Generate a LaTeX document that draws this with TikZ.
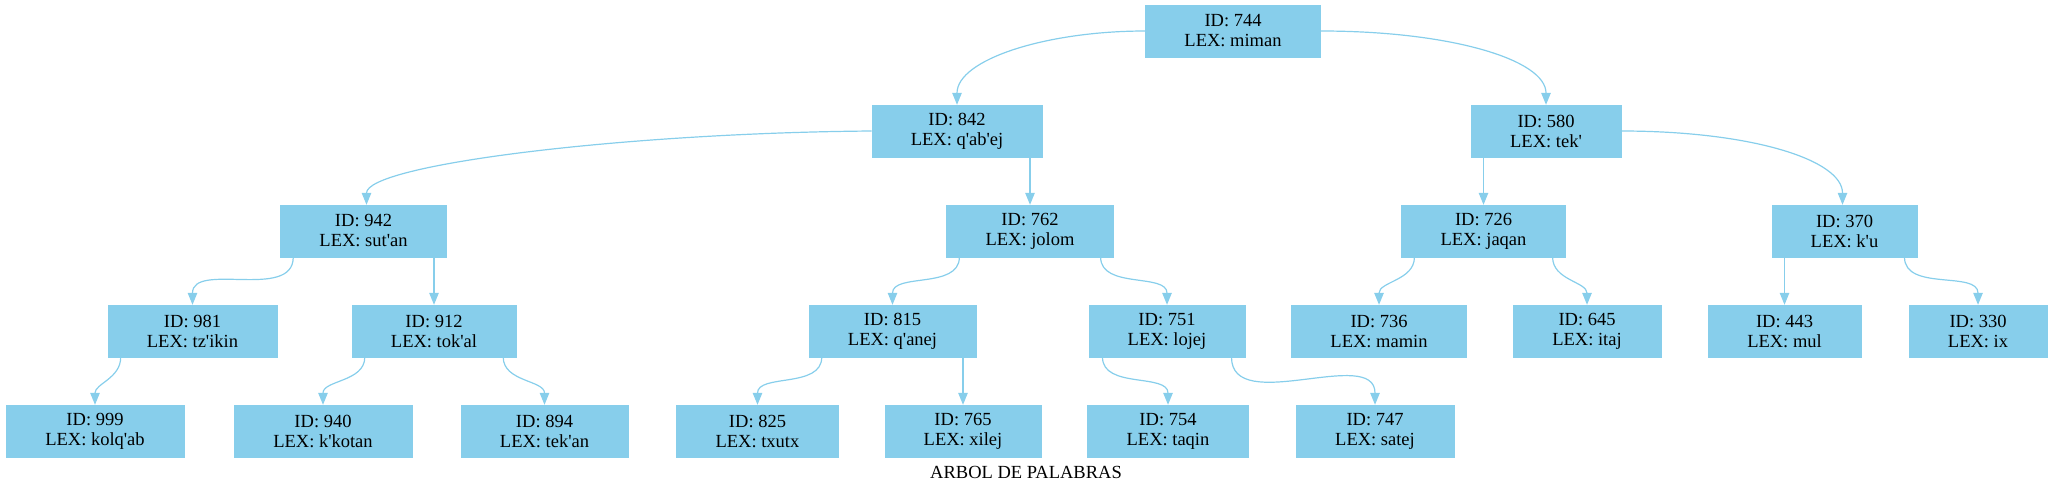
\documentclass[tikz,border=0pt]{standalone}
\usepackage{fontspec}
\setmainfont{Liberation Serif}[Ligatures=TeXOff]
\usetikzlibrary{arrows.meta}
\definecolor{skyblue}{HTML}{87CEEB}
\tikzset{
  word/.style={fill=skyblue, draw=skyblue, minimum height=52pt, inner xsep=39pt, inner ysep=0pt,
    align=center, font=\fontsize{18.5}{20}\selectfont},
  link/.style={draw=skyblue, line width=1.2pt, -{Triangle[length=12pt,width=9.5pt]}}
}
\begin{document}
\begin{tikzpicture}[x=1pt,y=-1pt]
\useasboundingbox (0,0) rectangle (2052,493);
\node[word] (n744) at (1233,31) {ID: 744\\LEX: miman};
\node[word] (n842) at (957,131) {ID: 842\\LEX: q'ab'ej};
\node[word] (n580) at (1546,131) {ID: 580\\LEX: tek'};
\node[word] (n942) at (363.5,231) {ID: 942\\LEX: sut'an};
\node[word] (n762) at (1030,231) {ID: 762\\LEX: jolom};
\node[word] (n726) at (1483.5,231) {ID: 726\\LEX: jaqan};
\node[word] (n370) at (1844.5,231) {ID: 370\\LEX: k'u};
\node[word] (n981) at (192.5,331) {ID: 981\\LEX: tz'ikin};
\node[word] (n912) at (434,331) {ID: 912\\LEX: tok'al};
\node[word] (n815) at (892.5,331) {ID: 815\\LEX: q'anej};
\node[word] (n751) at (1167,331) {ID: 751\\LEX: lojej};
\node[word] (n736) at (1379,331) {ID: 736\\LEX: mamin};
\node[word] (n645) at (1587,331) {ID: 645\\LEX: itaj};
\node[word] (n443) at (1784.5,331) {ID: 443\\LEX: mul};
\node[word] (n330) at (1978,331) {ID: 330\\LEX: ix};
\node[word] (n999) at (95,431) {ID: 999\\LEX: kolq'ab};
\node[word] (n940) at (323,431) {ID: 940\\LEX: k'kotan};
\node[word] (n894) at (544.5,431) {ID: 894\\LEX: tek'an};
\node[word] (n825) at (757.5,431) {ID: 825\\LEX: txutx};
\node[word] (n765) at (963,431) {ID: 765\\LEX: xilej};
\node[word] (n754) at (1168,431) {ID: 754\\LEX: taqin};
\node[word] (n747) at (1375,431) {ID: 747\\LEX: satej};
\node[font=\fontsize{18.5}{20}\selectfont, anchor=base] (title) at (1026,478) {ARBOL DE PALABRAS};
\draw[link] (n744.west) .. controls +(-100,0) and +(0,-45) .. (n842.north);
\draw[link] (n744.east) .. controls +(130,0) and +(0,-45) .. (n580.north);
\draw[link] (n842.west) .. controls +(-250,2) and +(0,-40) .. ([xshift=3pt]n942.north);
\draw[link] (n762.north |- n842.south) -- (n762.north);
\draw[link] (n726.north |- n580.south) -- (n726.north);
\draw[link] (n580.east) .. controls +(130,0) and +(0,-45) .. ([xshift=-2pt]n370.north);
\draw[link] ([xshift=13pt]n942.south west) to[out=-90,in=90] (n981.north);
\draw[link] (n912.north |- n942.south) -- (n912.north);
\draw[link] ([xshift=-13pt]n762.south east) to[out=-90,in=90] (n751.north);
\draw[link] ([xshift=13pt]n762.south west) to[out=-90,in=90] (n815.north);
\draw[link] ([xshift=13pt]n726.south west) to[out=-90,in=90] (n736.north);
\draw[link] ([xshift=-13pt]n726.south east) to[out=-90,in=90] (n645.north);
\draw[link] (n443.north |- n370.south) -- (n443.north);
\draw[link] ([xshift=-13pt]n370.south east) to[out=-90,in=90] (n330.north);
\draw[link] ([xshift=13pt]n981.south west) to[out=-90,in=90] (n999.north);
\draw[link] ([xshift=13pt]n912.south west) to[out=-90,in=90] (n940.north);
\draw[link] ([xshift=-13pt]n912.south east) to[out=-90,in=90] (n894.north);
\draw[link] ([xshift=13pt]n815.south west) to[out=-90,in=90] (n825.north);
\draw[link] (n765.north |- n815.south) -- (n765.north);
\draw[link] ([xshift=14pt]n751.south west) to[out=-90,in=90] (n754.north);
\draw[link] ([xshift=-14pt]n751.south east) to[out=-90,in=90] (n747.north);
\end{tikzpicture}
\end{document}
